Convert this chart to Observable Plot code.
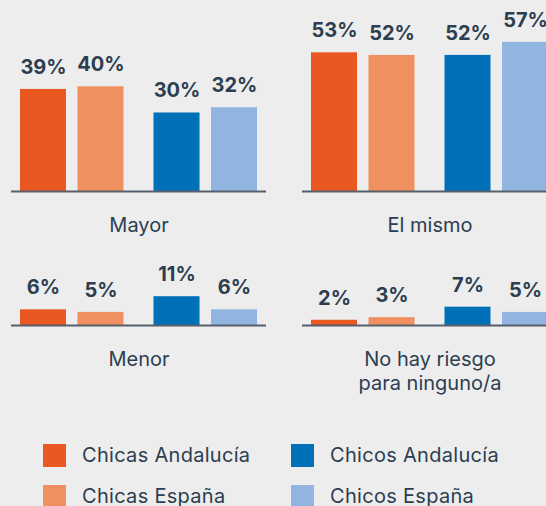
<!DOCTYPE html>
<html><head><meta charset="utf-8">
<script src="https://cdn.jsdelivr.net/npm/d3@7"></script>
<script src="https://cdn.jsdelivr.net/npm/@observablehq/plot@0.6"></script>
<style>
html,body{margin:0;padding:0;background:#ededed;overflow:hidden;}
#chart{width:546px;height:506px;overflow:hidden;position:relative;}
.lg-swatches{font-family:Inter,'Open Sans',sans-serif !important;font-size:20px !important;letter-spacing:0.3px;color:#2c3e50;margin:0 0 0 43px !important;width:496px;column-gap:0;}
.lg-swatch{padding-bottom:18px !important;align-items:center;}
.lg-swatch > svg{margin-right:16px !important;}
.lg-swatch-label{line-height:23px;}
</style></head><body><div id="chart"></div>
<script>
const categories = ["Mayor", "El mismo", "Menor", "No hay riesgo\npara ninguno/a"];
const series = ["Chicas Andalucía", "Chicas España", "Chicos Andalucía", "Chicos España"];
const chicasAndalucia = [39, 53, 6, 2];
const chicasEspana = [40, 52, 5, 3];
const chicosAndalucia = [30, 52, 11, 7];
const chicosEspana = [32, 57, 6, 5];
const colors = ["#e85820", "#f09060", "#0070b8", "#92b4e0"];

const values = [chicasAndalucia, chicasEspana, chicosAndalucia, chicosEspana];
const rows = categories.flatMap((c, i) => series.map((s, j) => ({category: c, series: s, value: values[j][i], girls: j < 2})));

const FONT = "Inter, 'Open Sans', sans-serif";
const INK = "#2c3e50";
const PX = 2.617;

function row(cats, yMax, baseline, height) {
  const data = rows.filter(d => cats.includes(d.category));
  const marginTop = baseline - yMax * PX;
  const marks = [];
  for (const girls of [true, false]) {
    const sub = data.filter(d => d.girls === girls);
    const dx = girls ? -9.25 : 9.25;
    marks.push(Plot.barY(sub, {fx: "category", x: "series", y: "value", fill: "series", dx}));
    marks.push(Plot.text(sub, {fx: "category", x: "series", y: "value", text: d => d.value + "%", dx, dy: -22, fontSize: 20, fontWeight: 700, fill: INK}));
  }
  marks.push(Plot.ruleY([0], {stroke: "#56606c", strokeWidth: 2}));
  marks.push(Plot.text(cats, {fx: d => d, text: d => d, frameAnchor: "bottom", lineAnchor: "top", dy: 23, lineHeight: 1.2, fontSize: 20, fill: INK, style: "letter-spacing:0.5px"}));
  return Plot.plot({
    width: 557, height, marginLeft: 11, marginRight: 0, marginTop, marginBottom: height - baseline,
    style: `background: transparent; max-width: none; overflow: visible; font-family: ${FONT}; color: ${INK};`,
    fx: {domain: cats, paddingInner: 0.1237, paddingOuter: 0, round: false, axis: null},
    x: {domain: series, paddingInner: 0.2, paddingOuter: 0.317, round: false, axis: null},
    y: {domain: [0, yMax], axis: null},
    color: {domain: series, range: colors},
    marks
  });
}

const chart = document.getElementById("chart");
chart.append(row(categories.slice(0, 2), 60, 191, 240));
chart.append(row(categories.slice(2, 4), 20, 85, 204));
chart.append(Plot.legend({color: {domain: series, range: colors}, columns: 2, swatchSize: 23, className: "lg"}));
</script></body></html>
